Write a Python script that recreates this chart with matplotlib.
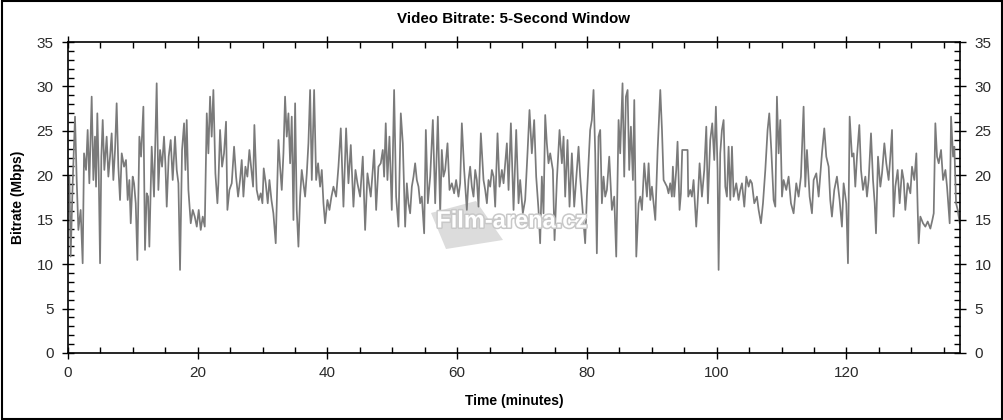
import matplotlib
matplotlib.use("Agg")
import matplotlib.pyplot as plt
from matplotlib.ticker import MultipleLocator
from matplotlib.patches import Rectangle, Polygon
import matplotlib.patheffects as pe

plt.rcParams['font.family'] = ['Liberation Sans', 'DejaVu Sans']

time_min = [
    0.21, 0.41, 0.72, 1.08, 1.34, 1.6, 1.95, 2.26, 2.47, 2.78, 3.03, 3.29, 3.65, 3.91, 4.16, 4.32, 4.52, 4.73, 4.94,
    5.14, 5.35, 5.6, 5.96, 6.22, 6.48, 6.73, 6.99, 7.25, 7.5, 7.76, 8.02, 8.28, 8.64, 8.94, 9.2, 9.46, 9.67, 9.97,
    10.18, 10.44, 10.69, 11.0, 11.26, 11.62, 11.87, 12.13, 12.34, 12.54, 12.9, 13.26, 13.67, 13.93, 14.19, 14.5,
    14.8, 15.01, 15.22, 15.52, 15.83, 16.14, 16.5, 16.76, 17.02, 17.27, 17.58, 17.89, 18.1, 18.3, 18.56, 18.92,
    19.23, 19.54, 19.85, 20.15, 20.46, 20.77, 21.08, 21.39, 21.64, 21.9, 22.15, 22.41, 22.72, 23.03,
    23.18, 23.44, 23.75, 24.05, 24.36, 24.57, 24.88, 25.24, 25.6, 25.91, 26.22, 26.52, 26.78, 27.04, 27.35, 27.65,
    27.96, 28.27, 28.53, 28.73, 29.09, 29.4, 29.71, 29.97, 30.17, 30.48, 30.79, 31.05, 31.36, 31.66, 32.02, 32.44,
    32.69, 32.95, 33.21, 33.46, 33.72, 33.98, 34.24, 34.49, 34.75, 35.01, 35.26, 35.52, 35.78, 36.03, 36.29, 36.55,
    36.81, 37.06, 37.32, 37.58, 37.94, 38.25, 38.55, 38.86, 39.12, 39.38, 39.63, 39.99, 40.3, 40.61, 40.92, 41.33,
    41.69, 42.05, 42.46, 42.87, 43.23, 43.59, 44.0, 44.31, 44.62, 45.03, 45.44, 45.8, 46.16,
    46.67, 46.98, 47.19, 47.5, 47.85, 48.21, 48.52, 48.73, 48.98, 49.24, 49.55, 49.91, 50.27, 50.58, 50.94, 51.3,
    51.61, 51.97, 52.23, 52.48, 52.74, 53.0, 53.26, 53.51, 53.77, 54.03, 54.28, 54.54, 54.9, 55.16, 55.47, 55.83,
    56.24, 56.6, 57.01, 57.37, 57.62, 57.88, 58.14, 58.5, 58.81, 59.17, 59.52, 59.83, 60.19, 60.45, 60.71, 61.07,
    61.48, 61.74, 61.99, 62.25, 62.51, 62.77, 63.02, 63.28, 63.64, 64.05, 64.31, 64.57, 64.82, 65.08, 65.34, 65.6,
    65.85, 66.21, 66.52, 66.88, 67.14, 67.39, 67.65, 67.91, 68.27, 68.68, 69.09, 69.45,
    69.7, 70.11, 70.47, 70.83, 71.14, 71.5, 71.86, 72.17, 72.53, 72.78, 73.04, 73.3, 73.56, 73.81, 74.07, 74.33,
    74.74, 75.0, 75.36, 75.77, 76.13, 76.39, 76.64, 77.0, 77.31, 77.67, 78.03, 78.44, 78.7, 78.95, 79.36, 79.72,
    79.98, 80.24, 80.49, 80.75, 81.01, 81.27, 81.52, 81.78, 82.04, 82.3, 82.55, 82.81, 83.07, 83.43, 83.84, 84.2,
    84.51, 84.87, 85.12, 85.48, 85.74, 86.0, 86.26, 86.51, 86.77, 87.08, 87.29, 87.6, 87.96, 88.21, 88.47, 88.83,
    89.24, 89.5, 89.76, 90.01, 90.27, 90.53, 90.89, 91.3, 91.56, 91.81, 92.33,
    92.57, 92.83, 93.09, 93.24, 93.45, 93.76, 93.96, 94.27, 94.48, 94.68, 95.51, 95.61, 95.92, 96.17, 96.43, 96.84,
    97.05, 97.36, 97.72, 98.08, 98.39, 98.64, 99.0, 99.31, 99.62, 99.87, 100.13, 100.29, 100.54, 100.8, 101.06,
    101.32, 101.57, 101.83, 102.09, 102.35, 102.6, 103.01, 103.37, 103.63, 103.89, 104.25, 104.56, 104.92, 105.17,
    105.43, 105.79, 106.2, 106.46, 106.82, 107.13, 107.49, 107.84, 108.1, 108.41, 108.77, 109.03, 109.28, 109.54,
    109.8, 110.06, 110.31, 110.72, 111.08, 111.44, 111.85, 112.26, 112.62, 112.98, 113.39, 113.65, 113.91, 114.32,
    114.68, 114.94, 115.35, 115.71,
    116.22, 116.58, 116.89, 117.25, 117.5, 117.76, 118.12, 118.53, 118.94, 119.3, 119.56, 119.97, 120.23, 120.49,
    120.85, 121.1, 121.36, 121.62, 121.98, 122.24, 122.55, 122.91, 123.16, 123.42, 123.78, 124.09, 124.35, 124.55,
    124.86, 125.22, 125.48, 125.84, 126.14, 126.5, 126.76, 127.02, 127.27, 127.53, 127.89, 128.2, 128.56, 128.82,
    129.07, 129.43, 129.85, 130.1, 130.46, 130.77, 130.98, 131.13, 131.39, 131.8, 132.16, 132.52, 132.93, 133.24,
    133.45, 133.7, 133.96, 134.22, 134.58, 134.89, 135.25, 135.5, 135.91, 136.12, 136.43, 136.63, 136.89, 137.15,
    137.46,
]

bitrate_mbps = [
    19.85, 10.85, 19.1, 26.6, 19.47, 13.85, 16.1, 10.1, 22.47, 20.6, 25.1, 19.1, 28.85, 19.47, 24.35, 18.72, 26.97, 20.6, 10.1,
    22.1, 26.22, 20.6, 24.35, 19.85, 22.1, 24.72, 19.47, 22.85, 28.1, 20.97, 17.22, 22.47, 20.97, 21.72, 17.22, 19.47, 14.6, 19.85,
    19.1, 16.85, 10.47, 24.35, 22.1, 27.72, 11.6, 17.97, 17.6, 11.97, 23.22, 17.6, 30.35, 18.35, 22.85, 20.97,
    24.35, 21.35, 16.47, 22.1, 23.97, 19.47, 24.35, 20.6, 19.1, 9.35, 22.85, 25.85, 20.6, 26.22, 18.35, 14.6,
    16.1, 15.35, 14.22, 16.1, 13.85, 15.35, 14.22, 26.97, 22.47, 28.85, 24.35, 29.6, 20.22, 16.85,
    19.1, 25.1, 20.97, 22.47, 26.03, 16.1, 18.35, 19.1, 23.22, 19.85, 17.6, 19.47, 21.72, 17.6, 20.97, 19.85,
    22.85, 20.6, 18.72, 25.66, 18.35, 17.22, 17.97, 16.85, 20.78, 19.1, 16.85, 19.47, 17.22, 15.72, 12.35, 23.97,
    20.97, 18.35, 22.47, 28.85, 24.35, 26.97, 21.35, 26.6, 14.97, 28.1, 16.1, 11.97, 17.6, 20.6, 19.1, 17.6,
    20.22, 23.6, 29.6, 19.47, 29.6, 19.47, 21.35, 18.72, 20.6, 16.85, 14.6, 17.22, 16.1, 17.6, 18.72, 17.6,
    20.97, 25.28, 16.47, 25.28, 19.1, 23.41, 16.47, 20.6, 19.1, 17.6, 22.1, 13.85, 20.22,
    17.6, 20.6, 22.85, 16.1, 20.97, 21.35, 22.85, 19.85, 25.85, 19.47, 24.35, 16.1, 29.6, 17.6, 14.22, 26.97,
    23.6, 14.22, 19.1, 16.85, 15.72, 18.72, 19.85, 21.35, 19.47, 18.72, 16.85, 17.6, 13.47, 25.1, 16.85, 19.85,
    26.22, 16.85, 26.6, 15.72, 22.85, 19.85, 20.6, 23.6, 18.35, 19.1, 17.97, 19.47, 17.6, 19.1, 25.85, 20.6,
    16.1, 19.47, 20.97, 18.72, 17.6, 20.6, 19.47, 16.47, 24.72, 19.47, 18.35, 16.85, 19.47, 18.72, 20.6, 19.85,
    16.47, 24.72, 18.72, 20.6, 19.1, 21.35, 23.6, 18.35, 25.85, 16.1, 25.1, 16.85,
    19.47, 15.72, 17.22, 22.47, 27.35, 22.47, 26.22, 19.85, 16.1, 12.35, 19.85, 15.72, 26.78, 23.6, 21.35, 22.47,
    20.6, 12.7, 19.47, 25.1, 21.35, 24.35, 17.6, 23.97, 16.47, 22.47, 16.47, 20.6, 23.22, 19.85, 15.72, 12.35,
    17.6, 21.35, 25.1, 26.22, 29.6, 22.47, 11.22, 24.35, 25.1, 16.85, 19.85, 17.6, 18.35, 22.1, 16.1, 17.6,
    10.85, 26.22, 22.47, 30.35, 19.85, 28.85, 29.6, 20.6, 25.47, 19.47, 28.47, 10.85, 16.85, 17.6, 16.1, 21.35,
    17.6, 21.35, 17.22, 18.72, 16.85, 14.97, 22.85, 29.6, 25.1, 19.47, 18.72,
    17.97, 19.1, 17.6, 20.97, 17.6, 20.6, 23.78, 16.1, 17.97, 22.85, 22.85, 17.6, 18.35, 17.6, 19.47, 14.22,
    16.85, 21.35, 17.6, 20.6, 25.47, 16.85, 23.97, 25.85, 21.72, 27.72, 20.6, 9.35, 22.47, 25.1, 26.22,
    18.72, 17.6, 23.22, 17.22, 23.22, 17.6, 19.1, 17.22, 18.35, 19.1, 16.47, 19.85, 18.72, 19.47,
    19.1, 16.85, 17.6, 16.1, 14.6, 16.85, 20.6, 25.1, 26.97, 22.85, 17.22, 16.47, 28.85, 22.47,
    26.22, 17.6, 19.47, 18.35, 19.85, 16.85, 15.72, 19.1, 17.6, 19.85, 27.72, 18.72, 22.85, 17.6,
    15.72, 19.47, 20.22, 17.6,
    22.47, 25.28, 22.1, 20.97, 17.22, 15.35, 18.35, 19.85, 17.22, 14.22, 19.1, 16.85, 10.1, 26.6,
    22.1, 22.47, 18.72, 22.1, 25.66, 20.6, 18.35, 19.85, 17.6, 19.47, 24.72, 19.47, 16.85, 13.47,
    22.1, 18.72, 20.22, 23.6, 21.35, 19.47, 22.1, 25.1, 15.35, 18.72, 20.6, 16.85, 20.6, 19.47,
    16.1, 19.1, 17.97, 20.97, 19.47, 22.47, 16.1, 12.35, 15.35, 14.6, 14.22, 14.8, 14.0, 14.97,
    15.72, 25.85, 22.1, 21.35, 22.85, 19.47, 20.6, 18.72, 14.6, 26.6, 22.1, 23.22, 16.85, 16.1,
    14.6,
]

x_ticks = [0, 20, 40, 60, 80, 100, 120]
y_ticks = [0, 5, 10, 15, 20, 25, 30, 35]

W, H = 1004, 420
fig = plt.figure(figsize=(W/100, H/100), dpi=100)
ax = fig.add_axes([68/W, 1-353/H, (960-68)/W, (353-42)/H])

# watermark backdrop shape (figure pixel coords -> fractions), drawn under the line
shape_px = [(431, 213), (476, 201), (503, 240), (446, 249)]
ax.add_patch(Polygon([(x/W, 1-y/H) for x, y in shape_px], closed=True,
                     transform=fig.transFigure, facecolor='#dcdcdc', edgecolor='none', zorder=1))

ax.plot(time_min, bitrate_mbps, color='#7a7a7a', lw=1.25, zorder=2)

ax.set_xlim(0, 137.5)
ax.set_ylim(0, 35)
ax.set_xticks(x_ticks)
ax.set_yticks(y_ticks)
ax.xaxis.set_minor_locator(MultipleLocator(5))
ax.yaxis.set_minor_locator(MultipleLocator(1))
ax.tick_params(axis='both', which='major', direction='inout', length=9, width=1,
               labelsize=11, colors='black', labelcolor='#2a2a2a')
ax.tick_params(axis='both', which='minor', direction='in', length=4, width=1)
ax.tick_params(axis='y', which='both', left=True, right=True, labelleft=True, labelright=True, pad=6)
ax.tick_params(axis='x', which='both', top=True, bottom=True, pad=5)
for s in ax.spines.values():
    s.set_linewidth(1.2)

ax.set_title('Video Bitrate: 5-Second Window', fontsize=10.9, fontweight='bold', pad=14)
ax.set_xlabel('Time (minutes)', fontsize=10, fontweight='bold', labelpad=10)
ax.set_ylabel('Bitrate (Mbps)', fontsize=10, fontweight='bold', labelpad=8)

ax.text(512/W, 1-221/H, 'Film-arena.cz', transform=fig.transFigure, ha='center', va='center',
        fontsize=17, fontweight='bold', color='white', zorder=5,
        path_effects=[pe.withStroke(linewidth=2.2, foreground='#c8c8c8')])

fig.add_artist(Rectangle((0.0015, 0.003), 0.997, 0.994, transform=fig.transFigure,
                         fill=False, edgecolor='black', lw=1.5))

fig.savefig('out.png', dpi=100)
